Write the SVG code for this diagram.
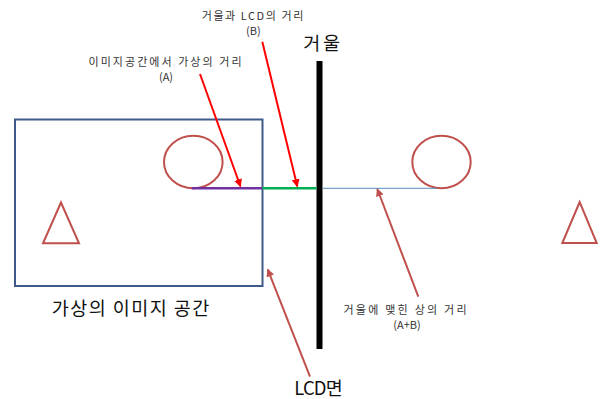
<svg xmlns="http://www.w3.org/2000/svg" width="600" height="399" viewBox="0 0 600 399">
<style>
text{font-family:"Noto Sans CJK KR","Noto Sans",sans-serif;fill:#333;text-anchor:middle}
.s{font-size:11px}
.b{font-size:18.5px;fill:#111}
.shape{fill:none;stroke:#c0504d;stroke-width:2}
.red{stroke:#ff0000;stroke-width:2;fill:none}
.brn{stroke:#c0504d;stroke-width:2;fill:none}
</style>
<defs>
<marker id="ar" viewBox="0 0 10 10" refX="9" refY="5" markerWidth="4" markerHeight="4" orient="auto" markerUnits="strokeWidth"><path d="M0,0 L10,5 L0,10 z" fill="#ff0000"/></marker>
<marker id="ab" viewBox="0 0 10 10" refX="9" refY="5" markerWidth="4" markerHeight="4" orient="auto" markerUnits="strokeWidth"><path d="M0,0 L10,5 L0,10 z" fill="#c0504d"/></marker>
</defs>
<rect width="600" height="399" fill="#fff"/>
<g id="image-space">
<rect x="15" y="119.5" width="247.5" height="166.5" fill="none" stroke="#3f5a8a" stroke-width="2"/>
<ellipse class="shape" cx="193.3" cy="162" rx="29.3" ry="26.3"/>
<polygon class="shape" points="61,202.5 43,243.3 79,243.3"/>
<text class="b" x="130.5" y="315" textLength="157.6" lengthAdjust="spacing">가상의 이미지 공간</text>
</g>
<g id="mirror">
<rect x="316.5" y="61" width="6" height="288" fill="#000"/>
<text class="b" x="321.7" y="50" textLength="36.7" lengthAdjust="spacing">거울</text>
</g>
<g id="reflection">
<ellipse class="shape" cx="441.5" cy="162" rx="29.2" ry="26.3"/>
<polygon class="shape" points="579.7,202 562.3,243 596.7,243"/>
</g>
<g id="labels">
<text class="s" x="252.5" y="20" textLength="101.6" lengthAdjust="spacing">거울과 LCD의 거리</text>
<text class="s" x="253.3" y="35">(B)</text>
<text class="s" x="165" y="66" textLength="153" lengthAdjust="spacing">이미지공간에서 가상의 거리</text>
<text class="s" x="166" y="81">(A)</text>
<text class="s" x="405" y="314" textLength="123" lengthAdjust="spacing">거울에 맺힌 상의 거리</text>
<text class="s" x="407" y="329">(A+B)</text>
<text class="b" x="318.5" y="395" textLength="48.4" lengthAdjust="spacing">LCD면</text>
</g>
<g id="connectors">
<line x1="191.7" y1="188.3" x2="262.3" y2="188.3" stroke="#7030a0" stroke-width="2.5"/>
<line x1="262.3" y1="188.3" x2="316.5" y2="188.3" stroke="#00b050" stroke-width="2.5"/>
<line x1="322.5" y1="188.3" x2="437" y2="188.3" stroke="#5b8bc4" stroke-width="1"/>
<line class="red" x1="200" y1="74" x2="240.5" y2="186.5" marker-end="url(#ar)"/>
<line class="red" x1="262.3" y1="41.7" x2="297.3" y2="186.5" marker-end="url(#ar)"/>
<line class="brn" x1="310" y1="376.7" x2="267.7" y2="269.3" marker-end="url(#ab)"/>
<line class="brn" x1="418.3" y1="296.7" x2="377.3" y2="189" marker-end="url(#ab)"/>
</g>
</svg>
